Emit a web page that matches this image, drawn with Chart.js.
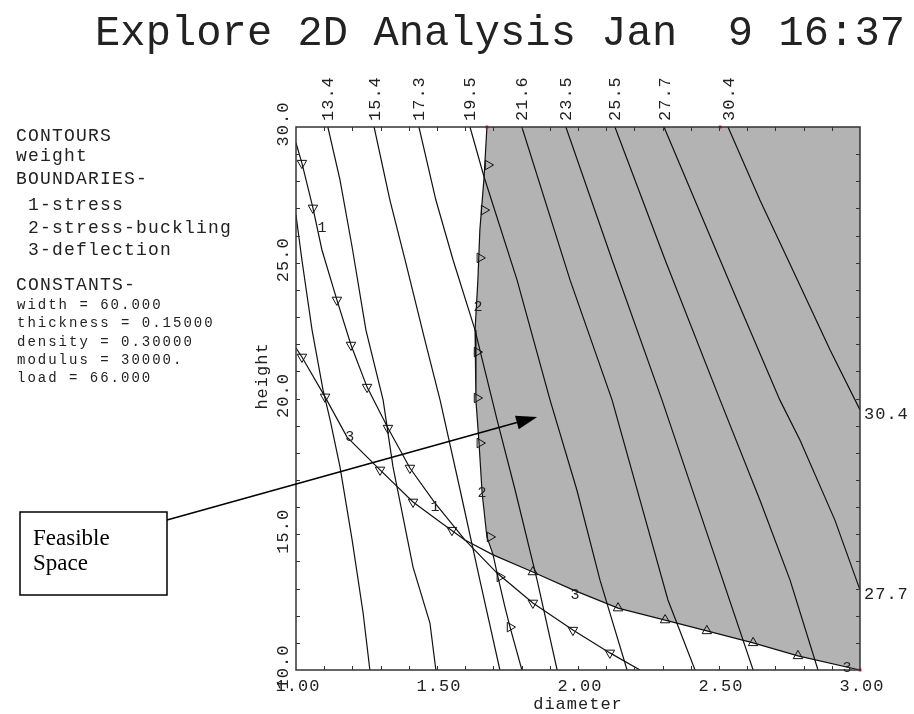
<!DOCTYPE html>
<html>
<head>
<meta charset="utf-8">
<script src="https://cdn.jsdelivr.net/npm/chart.js@4.4.1/dist/chart.umd.min.js"></script>
<style>
  html, body { margin: 0; padding: 0; background: #fff; }
  #chart { display: block; }
</style>
</head>
<body>
<canvas id="chart" width="914" height="714"></canvas>
<script>
/* ------------------------------- DATA ------------------------------- */
const xTickValues = [1.0, 1.5, 2.0, 2.5, 3.0];
const xTickLabels = ["1.00", "1.50", "2.00", "2.50", "3.00"];
const yTickValues = [10, 15, 20, 25, 30];
const yTickLabels = ["10.0", "15.0", "20.0", "25.0", "30.0"];

// weight contours, each one a list of (diameter, height) points
const contourLabels = ["", "13.4", "15.4", "17.3", "19.5", "21.6", "23.5", "25.5", "27.7", "30.4"];
const contourDiameter = [
  [1.000, 1.021, 1.057, 1.096, 1.121, 1.156, 1.199, 1.238, 1.262],
  [1.113, 1.156, 1.199, 1.248, 1.309, 1.344, 1.415, 1.475, 1.496],
  [1.277, 1.333, 1.387, 1.457, 1.511, 1.582, 1.652, 1.723],
  [1.436, 1.496, 1.557, 1.635, 1.652, 1.713, 1.777, 1.855, 1.926],
  [1.617, 1.667, 1.784, 1.901, 1.996, 2.078, 2.174],
  [1.801, 1.972, 2.121, 2.220, 2.319, 2.415],
  [1.957, 2.121, 2.298, 2.457, 2.621],
  [2.131, 2.309, 2.504, 2.645, 2.752, 2.851],
  [2.305, 2.504, 2.564, 2.716, 2.787, 2.911, 3.000],
  [2.532, 2.645, 2.745, 2.894, 3.000]
];
const contourHeight = [
  [26.76, 25.10, 22.52, 20.31, 19.21, 17.48, 14.79, 12.10, 10.00],
  [30.00, 28.05, 25.58, 22.52, 19.94, 17.48, 13.79, 11.73, 10.00],
  [30.00, 27.31, 25.10, 22.15, 19.94, 16.63, 13.31, 10.00],
  [30.00, 27.31, 25.10, 22.52, 21.79, 19.21, 16.63, 13.31, 10.00],
  [30.00, 28.16, 24.36, 19.94, 16.63, 13.31, 10.00],
  [30.00, 24.36, 19.94, 16.26, 12.58, 10.00],
  [30.00, 25.10, 19.94, 15.05, 10.00],
  [30.00, 25.10, 19.94, 16.26, 13.31, 10.00],
  [30.00, 25.10, 23.63, 19.94, 18.47, 15.52, 12.95],
  [30.00, 27.31, 25.10, 21.79, 19.58]
];

// boundary 1 - stress
const stressD = [1.000, 1.021, 1.060, 1.092, 1.145, 1.195, 1.252, 1.326, 1.404, 1.493, 1.599, 1.713, 1.840, 1.982, 2.113, 2.220];
const stressH = [29.41, 28.67, 27.02, 25.47, 23.63, 21.97, 20.42, 18.91, 17.44, 16.15, 14.79, 13.57, 12.47, 11.47, 10.63, 10.00];
// boundary 2 - stress-buckling
const bucklingD = [1.677, 1.667, 1.652, 1.645, 1.635, 1.638, 1.649, 1.660, 1.677, 1.699, 1.713, 1.741, 1.759, 1.801];
const bucklingH = [30.00, 28.16, 26.21, 24.36, 22.52, 19.94, 18.36, 16.52, 14.90, 14.24, 13.57, 12.32, 11.58, 10.00];
// boundary 3 - deflection
const deflectionD = [1.000, 1.021, 1.103, 1.181, 1.298, 1.415, 1.511, 1.599, 1.699, 1.840, 1.982, 2.142, 2.309, 2.457, 2.621, 2.780, 3.000];
const deflectionH = [21.86, 21.53, 20.06, 18.58, 17.37, 16.19, 15.45, 14.79, 14.24, 13.61, 12.95, 12.28, 11.84, 11.44, 11.00, 10.52, 10.00];
// where boundary 2 meets boundary 3 (corner of the feasible space)
const cornerBuckling = 9;
const cornerDeflection = 8;

// side markers along the boundaries
const stressMarkD = [1.021, 1.060, 1.145, 1.195, 1.252, 1.326, 1.404, 1.840, 1.982, 2.113];
const stressMarkH = [28.67, 27.02, 23.63, 21.97, 20.42, 18.91, 17.44, 12.47, 11.47, 10.63];
const bucklingMarkD = [1.681, 1.667, 1.652, 1.642, 1.642, 1.652, 1.688, 1.723, 1.759];
const bucklingMarkH = [28.60, 26.94, 25.18, 21.71, 20.02, 18.36, 14.90, 13.43, 11.58];
const deflectionMarkD = [1.021, 1.103, 1.298, 1.415, 1.553, 1.840, 2.142, 2.309, 2.457, 2.621, 2.780];
const deflectionMarkH = [21.53, 20.06, 17.37, 16.19, 15.15, 13.61, 12.28, 11.84, 11.44, 11.00, 10.52];

// boundary number labels
const boundaryTags = ["1", "1", "2", "2", "3", "3", "3"];
const boundaryTagD = [1.092, 1.493, 1.645, 1.660, 1.191, 1.989, 2.954];
const boundaryTagH = [26.28, 16.00, 23.37, 16.52, 18.58, 12.76, 10.07];

// red marks on the frame
const redMarkD = [1.677, 2.504, 3.000];
const redMarkH = [30.00, 30.00, 10.00];

// arrow target inside the feasible space
const arrowTipD = 1.855;
const arrowTipH = 19.32;

const panelHead = ["CONTOURS", "weight", "BOUNDARIES-", " 1-stress", " 2-stress-buckling", " 3-deflection", "CONSTANTS-"];
const panelConstants = ["width = 60.000", "thickness = 0.15000", "density = 0.30000", "modulus = 30000.", "load = 66.000"];
const titleText = "Explore 2D Analysis Jan  9 16:37";

/* ------------------------------- CHART ------------------------------- */
const toPoints = (ds, hs) => ds.map((d, i) => ({ x: d, y: hs[i] }));
const mono = "'Liberation Mono', 'DejaVu Sans Mono', monospace";

const feasiblePoints = [
  ...toPoints(bucklingD, bucklingH).slice(0, cornerBuckling + 1),
  ...toPoints(deflectionD, deflectionH).slice(cornerDeflection + 1),
  { x: 3.0, y: 30.0 },
  { x: bucklingD[0], y: bucklingH[0] }
];

const curve = (pts) => ({
  data: pts,
  showLine: true,
  borderColor: "#111",
  borderWidth: 1.2,
  pointRadius: 0,
  fill: false,
  tension: 0,
  order: 1
});

const markers = (pts, rot) => ({
  data: pts,
  showLine: false,
  pointStyle: "triangle",
  pointRadius: 5.5,
  pointRotation: rot,
  pointBorderColor: "#111",
  pointBackgroundColor: "rgba(0,0,0,0)",
  pointBorderWidth: 1,
  order: 0
});

const datasets = [
  {
    data: feasiblePoints,
    showLine: true,
    borderWidth: 0,
    borderColor: "rgba(0,0,0,0)",
    backgroundColor: "#b3b3b3",
    fill: "shape",
    pointRadius: 0,
    tension: 0,
    order: 10
  },
  ...contourDiameter.map((ds, i) => curve(toPoints(ds, contourHeight[i]))),
  curve(toPoints(stressD, stressH)),
  curve(toPoints(bucklingD, bucklingH)),
  curve(toPoints(deflectionD, deflectionH)),
  markers(toPoints(stressMarkD, stressMarkH), 180),
  markers(toPoints(bucklingMarkD, bucklingMarkH), 90),
  markers(toPoints(deflectionMarkD, deflectionMarkH), (c) => (c.raw && c.raw.x < 1.7 ? 180 : 0)),
  {
    data: toPoints(redMarkD, redMarkH),
    showLine: false,
    pointStyle: "rect",
    pointRadius: 2,
    pointBorderWidth: 0,
    pointBackgroundColor: "#e00000",
    clip: false,
    order: -1
  }
];

function rotatedText(ctx, txt, x, y, align) {
  ctx.save();
  ctx.translate(x, y);
  ctx.rotate(-Math.PI / 2);
  ctx.textAlign = align;
  ctx.textBaseline = "middle";
  ctx.fillText(txt, 0, 0);
  ctx.restore();
}

const decorations = {
  id: "decorations",
  afterDatasetsDraw(chart) {
    const { ctx, chartArea: a, scales: { x, y } } = chart;
    ctx.save();

    // frame
    ctx.strokeStyle = "#333";
    ctx.lineWidth = 1.5;
    ctx.strokeRect(a.left, a.top, a.right - a.left, a.bottom - a.top);

    // inward minor ticks on all four sides
    ctx.lineWidth = 1;
    ctx.beginPath();
    for (let i = 1; i < 20; i++) {
      const px = Math.round(x.getPixelForValue(1 + i * 0.1)) + 0.5;
      ctx.moveTo(px, a.bottom); ctx.lineTo(px, a.bottom - 4);
      ctx.moveTo(px, a.top); ctx.lineTo(px, a.top + 4);
    }
    for (let v = 11; v < 30; v++) {
      const py = Math.round(y.getPixelForValue(v)) + 0.5;
      ctx.moveTo(a.left, py); ctx.lineTo(a.left + 4, py);
      ctx.moveTo(a.right, py); ctx.lineTo(a.right - 4, py);
    }
    ctx.stroke();

    ctx.fillStyle = "#222";

    // tick labels
    ctx.font = "17px " + mono;
    ctx.letterSpacing = "1px";
    ctx.textAlign = "center";
    ctx.textBaseline = "middle";
    xTickValues.forEach((v, i) => {
      ctx.fillText(xTickLabels[i], x.getPixelForValue(v) + 2, a.bottom + 16);
    });
    yTickValues.forEach((v, i) => {
      rotatedText(ctx, yTickLabels[i], a.left - 13, y.getPixelForValue(v) - 3, "center");
    });

    // axis titles
    ctx.textAlign = "center";
    ctx.fillText("diameter", (a.left + a.right) / 2, a.bottom + 34);
    rotatedText(ctx, "height", a.left - 34, 376, "center");

    // contour labels on the top and right edges
    contourLabels.forEach((lab, i) => {
      if (!lab) return;
      const ds = contourDiameter[i];
      const hs = contourHeight[i];
      if (hs[0] >= 30) {
        rotatedText(ctx, lab, x.getPixelForValue(ds[0]) + 1, a.top - 6, "left");
      }
      if (ds[ds.length - 1] >= 3) {
        ctx.textAlign = "left";
        ctx.textBaseline = "middle";
        ctx.fillText(lab, a.right + 4, y.getPixelForValue(hs[hs.length - 1]) + 5);
      }
    });

    // boundary numbers
    ctx.font = "15px " + mono;
    ctx.letterSpacing = "0px";
    ctx.textAlign = "center";
    ctx.textBaseline = "middle";
    boundaryTags.forEach((t, i) => {
      ctx.fillText(t, x.getPixelForValue(boundaryTagD[i]), y.getPixelForValue(boundaryTagH[i]));
    });
    ctx.restore();
  },
  afterDraw(chart) {
    const { ctx, scales: { x, y } } = chart;
    ctx.save();
    ctx.fillStyle = "#222";
    ctx.textBaseline = "alphabetic";
    ctx.textAlign = "left";

    // title, fitted between x=95 and x=905
    ctx.font = "42px " + mono;
    ctx.letterSpacing = "0px";
    const w0 = ctx.measureText(titleText).width;
    const ls = (810 - w0) / (titleText.length - 1);
    ctx.letterSpacing = ls.toFixed(2) + "px";
    ctx.fillText(titleText, 95, 45);

    // left information panel
    ctx.font = "18px " + mono;
    ctx.letterSpacing = "1.2px";
    const headY = [141, 161, 184, 210, 233, 255, 290];
    panelHead.forEach((t, i) => ctx.fillText(t, 16, headY[i]));
    ctx.font = "14px " + mono;
    ctx.letterSpacing = "2px";
    panelConstants.forEach((t, i) => ctx.fillText(t, 17, 309 + i * 18.3));
    ctx.letterSpacing = "0px";

    // callout box with arrow
    ctx.strokeStyle = "#000";
    ctx.lineWidth = 1.5;
    ctx.strokeRect(20, 512, 147, 83);
    ctx.fillStyle = "#000";
    ctx.font = "23px 'Liberation Serif', 'Times New Roman', serif";
    ctx.fillText("Feasible", 33, 545);
    ctx.fillText("Space", 33, 570);

    const x0 = 167, y0 = 520;
    const x1 = x.getPixelForValue(arrowTipD), y1 = y.getPixelForValue(arrowTipH);
    const ang = Math.atan2(y1 - y0, x1 - x0);
    const headLen = 21, headHalf = 7;
    const bx = x1 - headLen * Math.cos(ang), by = y1 - headLen * Math.sin(ang);
    ctx.beginPath();
    ctx.moveTo(x0, y0);
    ctx.lineTo(bx, by);
    ctx.stroke();
    ctx.beginPath();
    ctx.moveTo(x1, y1);
    ctx.lineTo(bx + headHalf * Math.sin(ang), by - headHalf * Math.cos(ang));
    ctx.lineTo(bx - headHalf * Math.sin(ang), by + headHalf * Math.cos(ang));
    ctx.closePath();
    ctx.fill();
    ctx.restore();
  }
};

new Chart(document.getElementById("chart").getContext("2d"), {
  type: "line",
  data: { datasets },
  options: {
    responsive: false,
    animation: false,
    devicePixelRatio: 1,
    parsing: true,
    layout: { padding: { left: 296, top: 127, right: 54, bottom: 44 } },
    plugins: {
      legend: { display: false },
      tooltip: { enabled: false }
    },
    scales: {
      x: { type: "linear", min: 1, max: 3, display: false },
      y: { type: "linear", min: 10, max: 30, display: false }
    }
  },
  plugins: [decorations]
});
</script>
</body>
</html>
